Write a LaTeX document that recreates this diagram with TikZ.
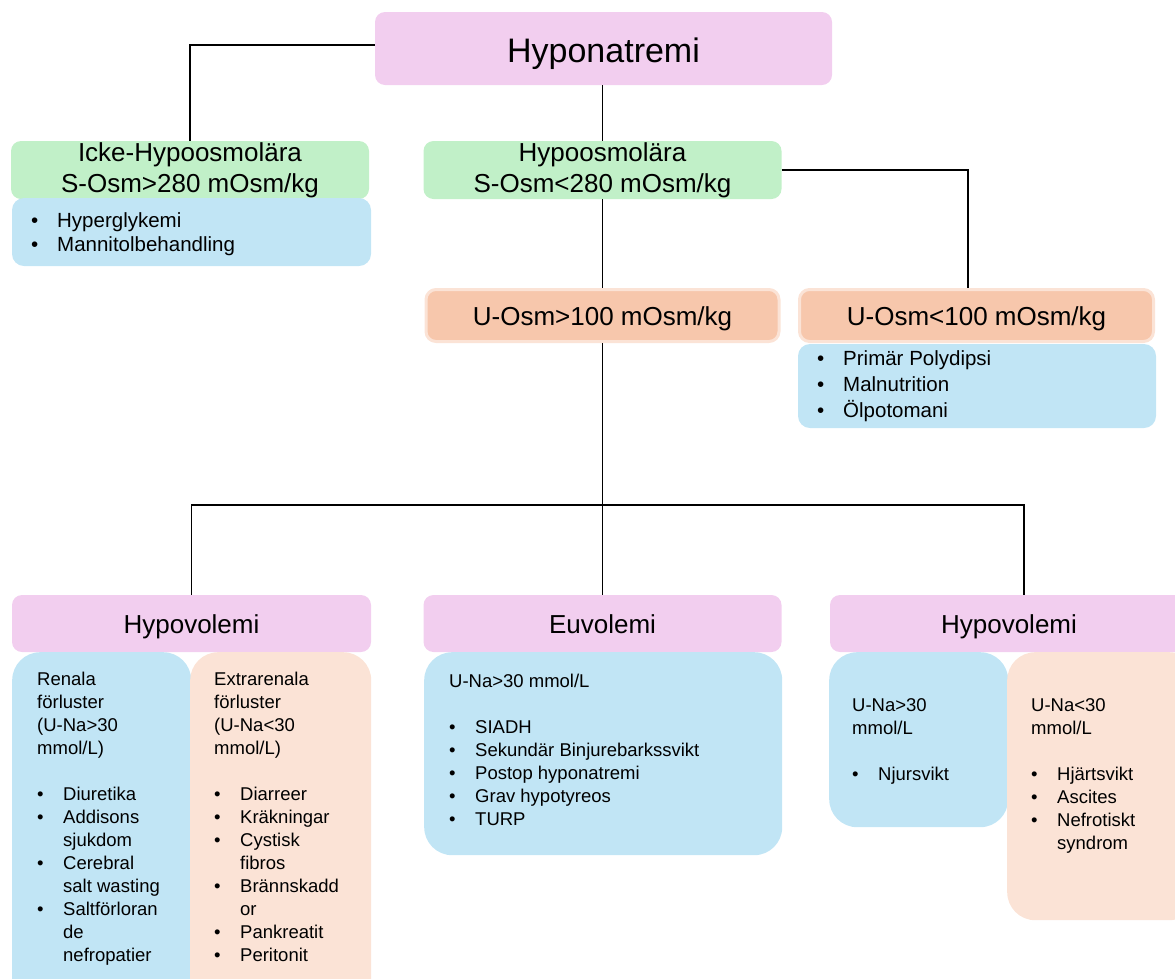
\documentclass[tikz,border=0pt]{standalone}
\usepackage{fontspec}
\setmainfont{Liberation Sans}
\usetikzlibrary{positioning}

\definecolor{boxpink}{HTML}{F2CEEF}
\definecolor{boxgreen}{HTML}{C1F0C8}
\definecolor{boxblue}{HTML}{C1E5F5}
\definecolor{boxorange}{HTML}{F7C7AC}
\definecolor{boxpeach}{HTML}{FBE3D6}

\newcommand{\bul}{\makebox[26pt][l]{\textbullet}}
\newcommand{\ind}{\hspace*{26pt}}
\newcommand{\lines}[1]{\begin{tabular}[t]{@{}l@{}}#1\end{tabular}}

\begin{document}
\begin{tikzpicture}[x=1pt, y=-1pt,
    head/.style={rectangle, rounded corners=10pt, inner sep=0pt, align=center, font=\fontsize{26}{31}\selectfont},
    onehead/.style={head, text height=20pt, text depth=1pt},
    listbox/.style={rectangle, rounded corners=12pt, inner sep=0pt},
    detail/.style={rectangle, rounded corners=28pt, inner sep=0pt, anchor=north west},
    toplist/.style={anchor=base west, inner sep=0pt, font=\fontsize{20.5}{24}\selectfont},
    botlist/.style={anchor=base west, inner sep=0pt, font=\fontsize{18.5}{23}\selectfont},
    line/.style={draw=black, line width=1.3pt}]
    \clip (0,0) rectangle (1175,978);

    % Draw the vertices.
    \node at (603.5,48.5) [head, fill=boxpink, minimum width=457pt, minimum height=73pt, text height=40pt, text depth=13pt, font=\fontsize{34}{40}\selectfont] (hypo) {Hyponatremi};
    \node at (190,170) [head, fill=boxgreen, minimum width=358pt, minimum height=58pt] (icke) {Icke-Hypoosmolära\\S-Osm>280 mOsm/kg};
    \node at (602.5,170) [head, fill=boxgreen, minimum width=358pt, minimum height=58pt] (hypoosm) {Hypoosmolära\\S-Osm<280 mOsm/kg};
    \node at (191.5,232) [listbox, fill=boxblue, minimum width=359pt, minimum height=68pt] (ickebox) {};
    \node at (31,227) [toplist] (ickelist) {\lines{\bul Hyperglykemi\\ \bul Mannitolbehandling}};

    \node at (602.5,315.5) [onehead, fill=boxorange, draw=boxpeach, line width=3pt, minimum width=353pt, minimum height=52pt] (uoshigh) {U-Osm>100 mOsm/kg};
    \node at (976.5,315.5) [onehead, fill=boxorange, draw=boxpeach, line width=3pt, minimum width=354pt, minimum height=52pt] (uoslow) {U-Osm<100 mOsm/kg};
    \node at (977,386) [listbox, fill=boxblue, minimum width=358pt, minimum height=84pt] (uosbox) {};
    \node at (817,365) [toplist, font=\fontsize{20.5}{26}\selectfont] (uoslist) {\lines{\bul Primär Polydipsi\\ \bul Malnutrition\\ \bul Ölpotomani}};

    \node at (191.5,623.5) [onehead, fill=boxpink, minimum width=359pt, minimum height=57pt] (hypovl) {Hypovolemi};
    \node at (602.5,623.5) [onehead, fill=boxpink, minimum width=358pt, minimum height=57pt] (euvol) {Euvolemi};
    \node at (1009,623.5) [onehead, fill=boxpink, minimum width=358pt, minimum height=57pt] (hypovr) {Hypovolemi};

    % Detail boxes under the volume states
    \node at (12,652) [detail, fill=boxblue, minimum width=179pt, minimum height=360pt] (renbox) {};
    \node at (190,652) [detail, fill=boxpeach, minimum width=181pt, minimum height=360pt] (extbox) {};
    \node at (424,652) [detail, fill=boxblue, minimum width=358pt, minimum height=203pt] (euvbox) {};
    \node at (829,652) [detail, fill=boxblue, minimum width=179pt, minimum height=175pt] (njbox) {};
    \node at (1007,652) [detail, fill=boxpeach, minimum width=190pt, minimum height=268pt] (unabox) {};

    \node at (37,685) [botlist] (renlist) {\lines{Renala\\ förluster\\ (U-Na>30\\ mmol/L)\\ ~\\
        \bul Diuretika\\ \bul Addisons\\ \ind sjukdom\\ \bul Cerebral\\ \ind salt wasting\\ \bul Saltförloran\\ \ind de\\ \ind nefropatier}};
    \node at (214,685) [botlist] (extlist) {\lines{Extrarenala\\ förluster\\ (U-Na<30\\ mmol/L)\\ ~\\
        \bul Diarreer\\ \bul Kräkningar\\ \bul Cystisk\\ \ind fibros\\ \bul Brännskadd\\ \ind or\\ \bul Pankreatit\\ \bul Peritonit}};
    \node at (449,687) [botlist] (euvlist) {\lines{U-Na>30 mmol/L\\ ~\\
        \bul SIADH\\ \bul Sekundär Binjurebarkssvikt\\ \bul Postop hyponatremi\\ \bul Grav hypotyreos\\ \bul TURP}};
    \node at (852,711) [botlist] (njlist) {\lines{U-Na>30\\ mmol/L\\ ~\\ \bul Njursvikt}};
    \node at (1031,711) [botlist] (unalist) {\lines{U-Na<30\\ mmol/L\\ ~\\
        \bul Hjärtsvikt\\ \bul Ascites\\ \bul Nefrotiskt\\ \ind syndrom}};

    % Connect vertices with edges
    \coordinate (split) at (602.5,505);
    \draw[line] ([yshift=3.5pt]hypo.west) -| (icke.north);
    \draw[line] (hypoosm.north |- hypo.south) -- (hypoosm.north);
    \draw[line] (hypoosm.east) -| ([xshift=-8.5pt]uoslow.north);
    \draw[line] (hypoosm.south) -- (uoshigh.north);
    \draw[line] (uoshigh.south) -- (euvol.north);
    \draw[line] (split) -| (hypovl.north);
    \draw[line] (split) -| ([xshift=15pt]hypovr.north);
\end{tikzpicture}
\end{document}
